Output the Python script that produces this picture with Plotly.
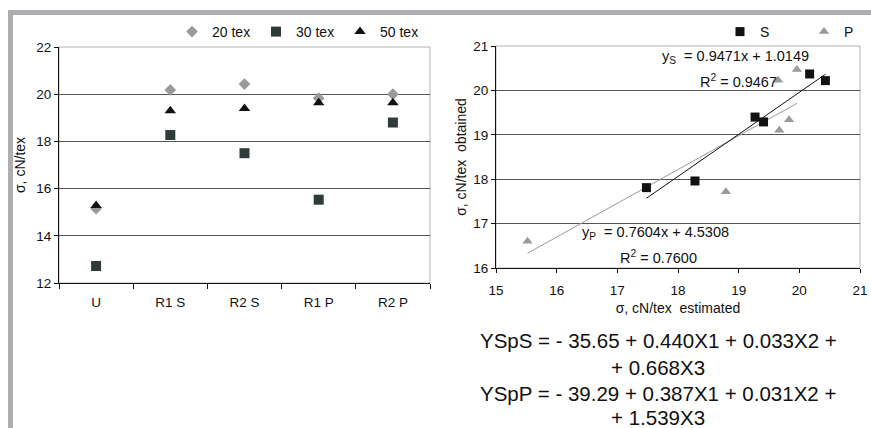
import plotly.graph_objects as go

W, H = 871, 428
FONT = "Arial, Liberation Sans, sans-serif"

# ---------------- data: left chart ----------------
categories = ["U", "R1 S", "R2 S", "R1 P", "R2 P"]
tex20 = [15.15, 20.18, 20.43, 19.83, 20.0]
tex30 = [12.72, 18.27, 17.50, 15.53, 18.80]
tex50 = [15.28, 19.30, 19.39, 19.64, 19.64]

# ---------------- data: right chart ----------------
s_est = [17.48, 18.28, 19.27, 19.41, 20.17, 20.43]
s_obt = [17.81, 17.96, 19.40, 19.29, 20.37, 20.22]
p_est = [15.52, 18.79, 19.67, 19.83, 19.65, 19.96]
p_obt = [16.60, 17.72, 19.10, 19.34, 20.23, 20.47]
fit_s = [0.9471, 1.0149]   # slope, intercept
fit_p = [0.7604, 4.5308]

eq_lines = [
    "YSpS = - 35.65 + 0.440X1 + 0.033X2 +",
    "+ 0.668X3",
    "YSpP = - 39.29 + 0.387X1 + 0.031X2 +",
    "+ 1.539X3",
]


def px(x):
    return x / W


def py(y):
    return 1 - y / H


fig = go.Figure()

# left chart traces
fig.add_trace(go.Scatter(x=categories, y=tex20, mode="markers", name="20 tex",
                         marker=dict(symbol="diamond", size=9, color="#9a9a9a"),
                         xaxis="x", yaxis="y", legend="legend"))
fig.add_trace(go.Scatter(x=categories, y=tex30, mode="markers", name="30 tex",
                         marker=dict(symbol="square", size=10, color="#2f3a3a"),
                         xaxis="x", yaxis="y", legend="legend"))
fig.add_trace(go.Scatter(x=categories, y=tex50, mode="markers", name="50 tex",
                         marker=dict(symbol="triangle-up", size=10, color="#111111"),
                         xaxis="x", yaxis="y", legend="legend"))

# right chart: trend lines
sx = [min(s_est), max(s_est)]
px_ = [min(p_est), max(p_est)]
fig.add_trace(go.Scatter(x=px_, y=[fit_p[0] * v + fit_p[1] for v in px_], mode="lines",
                         line=dict(color="#9a9a9a", width=1), showlegend=False,
                         xaxis="x2", yaxis="y2", hoverinfo="skip"))
fig.add_trace(go.Scatter(x=sx, y=[fit_s[0] * v + fit_s[1] for v in sx], mode="lines",
                         line=dict(color="#111111", width=1), showlegend=False,
                         xaxis="x2", yaxis="y2", hoverinfo="skip"))
fig.add_trace(go.Scatter(x=s_est, y=s_obt, mode="markers", name="S",
                         marker=dict(symbol="square", size=9, color="#111111"),
                         xaxis="x2", yaxis="y2", legend="legend2"))
fig.add_trace(go.Scatter(x=p_est, y=p_obt, mode="markers", name="P",
                         marker=dict(symbol="triangle-up", size=9, color="#9a9a9a"),
                         xaxis="x2", yaxis="y2", legend="legend2"))

tickfont = dict(family=FONT, size=13.5, color="#111111")
titlefont = dict(family=FONT, size=14, color="#111111")

fig.update_layout(
    width=W, height=H,
    margin=dict(l=0, r=0, t=0, b=0, autoexpand=False),
    paper_bgcolor="white", plot_bgcolor="white",
    font=dict(family=FONT, size=13, color="#111111"),
    xaxis=dict(domain=[px(59), px(430)], type="category", range=[-0.5, 4.5],
               showgrid=False, showline=True, linecolor="#111111", linewidth=1,
               ticks="outside", ticklen=5, tickcolor="#111111", tickson="boundaries",
               tickfont=tickfont, ticklabelstandoff=7, anchor="y", automargin=False),
    yaxis=dict(domain=[py(283), py(47)], range=[12, 22], dtick=2,
               showgrid=True, gridcolor="#555555", gridwidth=1,
               showline=True, linecolor="#111111", linewidth=1,
               ticks="outside", ticklen=4, tickcolor="#111111",
               tickfont=tickfont, zeroline=False, anchor="x", automargin=False,
               title=dict(text="σ, cN/tex", font=titlefont, standoff=7)),
    xaxis2=dict(domain=[px(496), px(860)], range=[15, 21], dtick=1,
                showgrid=False, showline=True, linecolor="#111111", linewidth=1,
                ticks="outside", ticklen=4, tickcolor="#111111",
                tickfont=tickfont, zeroline=False, anchor="y2", automargin=False,
                ticklabelstandoff=6,
                title=dict(text="σ, cN/tex\u00a0\u00a0estimated", font=titlefont, standoff=5)),
    yaxis2=dict(domain=[py(268), py(46)], range=[16, 21], dtick=1,
                showgrid=True, gridcolor="#555555", gridwidth=1,
                showline=True, linecolor="#111111", linewidth=1,
                ticks="outside", ticklen=4, tickcolor="#111111",
                tickfont=tickfont, zeroline=False, anchor="x2", automargin=False,
                title=dict(text="σ, cN/tex\u00a0\u00a0obtained", font=titlefont, standoff=3)),
    legend=dict(orientation="h", x=px(172), xanchor="left", y=py(32), yanchor="middle",
                font=dict(family=FONT, size=14, color="#111111"),
                bgcolor="rgba(0,0,0,0)", entrywidth=39, entrywidthmode="pixels",
                itemclick=False),
    legend2=dict(orientation="h", x=px(720), xanchor="left", y=py(32), yanchor="middle",
                 font=dict(family=FONT, size=14, color="#111111"),
                 bgcolor="rgba(0,0,0,0)", entrywidth=39, entrywidthmode="pixels",
                 itemclick=False),
)

shapes = [
    # grey frame
    dict(type="rect", xref="paper", yref="paper", x0=px(8), x1=1, y0=py(15), y1=py(10),
         fillcolor="#aeaeb2", line=dict(width=0), layer="below"),
    dict(type="rect", xref="paper", yref="paper", x0=px(8), x1=px(13), y0=0, y1=py(10),
         fillcolor="#aeaeb2", line=dict(width=0), layer="below"),
    # light plot borders
    dict(type="rect", xref="x domain", yref="y domain", x0=0, x1=1, y0=0, y1=1,
         line=dict(color="#b4b4b4", width=1), layer="below"),
    dict(type="rect", xref="x2 domain", yref="y2 domain", x0=0, x1=1, y0=0, y1=1,
         line=dict(color="#b4b4b4", width=1), layer="below"),
]
fig.update_layout(shapes=shapes)

ann_font = dict(family=FONT, size=14.5, color="#111111")
annotations = [
    dict(text="y<sub>S</sub>\u00a0\u00a0= 0.9471x + 1.0149", x=px(660), y=py(57)),
    dict(text="R<sup>2</sup> = 0.9467", x=px(698), y=py(81)),
    dict(text="y<sub>P</sub>\u00a0\u00a0= 0.7604x + 4.5308", x=px(580), y=py(233)),
    dict(text="R<sup>2</sup> = 0.7600", x=px(618), y=py(257)),
]
for a in annotations:
    a.update(xref="paper", yref="paper", xanchor="left", yanchor="middle",
             showarrow=False, font=ann_font)

eq_y = [340, 367, 393, 417]
for txt, yy in zip(eq_lines, eq_y):
    annotations.append(dict(text=txt, x=px(658), y=py(yy), xref="paper", yref="paper",
                            xanchor="center", yanchor="middle", showarrow=False,
                            font=dict(family=FONT, size=20.5, color="#111111")))
fig.update_layout(annotations=annotations)

fig.write_html(
    "out.html",
    config={"displayModeBar": False},
    post_script="document.documentElement.style.margin='0';"
                "document.body.style.margin='0';"
                "document.body.style.overflow='hidden';",
)
